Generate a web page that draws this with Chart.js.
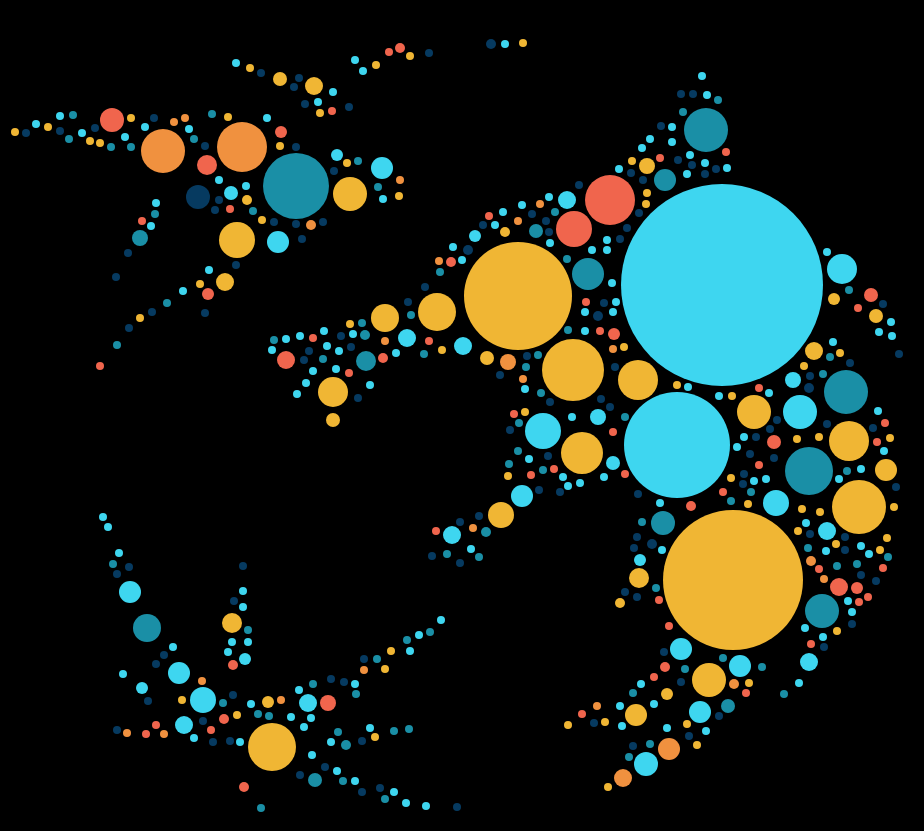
<!DOCTYPE html>
<html>
<head>
<meta charset="utf-8">
<title>Bubbles</title>
<script src="https://cdn.jsdelivr.net/npm/chart.js@4.4.1/dist/chart.umd.min.js"></script>
<style>
  html, body { margin: 0; padding: 0; background: #000; overflow: hidden; }
  #wrap { width: 924px; height: 831px; }
</style>
</head>
<body>
<div id="wrap"><canvas id="bubbleChart" width="924" height="831"></canvas></div>
<script>
// each entry: [x, y, r]
const cyanBubbles = [
  [236,63,4],[60,116,4],[36,124,4],[82,133,4],[125,137,4],[145,127,4],[189,129,4],[267,118,4],[219,180,4],[231,193,7],[246,186,4],[278,242,11],[156,203,4],[151,226,4],[209,270,4],[183,291,4],
  [355,60,4],[363,71,4],[505,44,4],[333,92,4],[318,102,4],[337,155,6],[382,168,11],[383,199,4],
  [567,200,9],[549,197,4],[522,205,4],[503,212,4],[495,225,4],[475,236,6],[550,243,4],[607,240,4],[592,250,4],[607,250,4],[453,247,4],[462,260,4],
  [702,76,4],[707,95,4],[672,127,4],[650,139,4],[672,142,4],[642,148,4],[690,155,4],[705,163,4],[687,174,4],[727,168,4],[619,169,4],
  [722,285,101],[612,283,4],[616,302,4],[613,312,4],[827,252,4],[842,269,15],[891,322,4],[879,332,4],[892,336,4],
  [324,331,4],[300,336,4],[286,339,4],[272,350,4],[353,334,4],[407,338,9],[327,346,4],[339,351,4],[396,353,4],[463,346,9],[313,371,4],[336,369,4],[306,383,4],[297,394,4],[370,385,4],
  [525,389,4],[543,431,18],[598,417,8],[529,459,4],[563,477,4],[568,486,4],[522,496,11],[452,535,9],[471,549,4],
  [441,620,4],[419,635,4],[410,651,4],[406,803,4],[426,806,4],
  [660,503,4],[662,550,4],[640,560,6],[681,649,11],[641,684,4],[654,704,4],[620,706,4],[622,726,4],[667,728,4],[646,764,12],
  [754,481,4],[776,503,13],[806,523,4],[827,531,9],[826,551,4],[861,546,4],[869,554,4],[848,601,4],[852,612,4],[805,628,4],[823,637,4],[809,662,9],[799,683,4],
  [740,666,11],[700,712,11],[706,731,4],
  [585,312,4],[585,331,4],[572,417,4],[613,463,7],[580,483,4],[604,477,4],[677,445,53],
  [688,387,4],[719,396,4],[769,393,4],[800,412,17],[793,380,8],[833,342,4],[744,437,4],[737,447,4],[878,411,4],[884,451,4],[861,469,4],[839,479,4],[766,479,4],
  [103,517,4],[108,527,4],[119,553,4],[130,592,11],[243,591,4],[243,607,4],[232,642,4],[248,642,4],[228,652,4],[245,659,6],[173,647,4],[179,673,11],[123,674,4],[142,688,6],[203,700,13],[251,704,4],[299,690,4],[308,703,9],[355,684,4],[184,725,9],[194,738,4],[240,742,4],[291,717,4],[311,718,4],[304,727,4],[312,755,4],[337,771,4],[355,781,4],[331,742,4],[370,728,4],[394,792,4]
];

const yellowBubbles = [
  [250,68,4],[280,79,7],[314,86,9],[131,118,4],[228,117,4],[48,127,4],[15,132,4],[90,141,4],[100,143,4],[280,146,4],[247,200,5],[262,220,4],[237,240,18],[225,282,9],[200,284,4],[140,318,4],
  [376,65,4],[410,56,4],[523,43,4],[320,113,4],[347,163,4],[350,194,17],[399,196,4],[505,232,5],[518,296,54],[437,312,19],[385,318,14],
  [632,161,4],[647,166,8],[647,193,4],[646,204,4],[834,299,6],[876,316,7],
  [350,324,4],[333,392,15],[333,420,7],[442,350,4],[487,358,7],[573,370,31],[525,412,4],[508,476,4],[501,515,13],
  [639,578,10],[620,603,5],[667,694,6],[636,715,11],[568,725,4],[605,722,4],[608,787,4],
  [859,507,27],[894,507,4],[748,504,4],[733,580,70],[802,509,4],[820,512,4],[798,531,4],[836,544,4],[887,538,4],[880,550,4],[837,631,4],[709,680,17],[749,683,4],[687,724,4],[697,745,4],
  [624,347,4],[582,453,21],[638,380,20],[677,385,4],[732,396,4],[754,412,17],[814,351,9],[840,353,4],[804,366,4],[797,439,4],[819,437,4],[849,441,20],[890,438,4],[886,470,11],[731,478,4],
  [232,623,10],[182,700,4],[268,702,6],[391,651,4],[385,669,4],[237,715,4],[272,747,24],[375,737,4]
];

const coralBubbles = [
  [112,120,12],[281,132,6],[207,165,10],[230,209,4],[142,221,4],[208,294,6],[100,366,4],
  [389,52,4],[400,48,5],[332,111,4],[610,200,25],[489,216,4],[574,229,18],[451,262,5],[586,302,4],
  [726,152,4],[660,158,4],[614,334,6],[871,295,7],[858,308,4],
  [313,338,4],[429,341,4],[286,360,9],[383,358,5],[349,373,4],[514,414,4],[531,475,4],[554,469,4],[436,531,4],
  [659,600,4],[669,626,4],[665,667,5],[654,677,4],[582,714,4],
  [723,492,4],[691,506,5],[819,569,4],[883,568,4],[839,587,9],[857,588,6],[868,597,4],[859,602,4],[811,644,4],[746,693,4],
  [600,331,4],[613,432,4],[625,474,4],[759,388,4],[774,442,7],[759,465,4],[885,423,4],[877,442,4],
  [233,665,5],[328,703,8],[146,734,4],[156,725,4],[211,730,4],[224,719,5],[244,787,5]
];

const orangeBubbles = [
  [174,122,4],[185,118,4],[163,151,22],[242,147,25],[311,225,5],
  [400,180,4],[540,204,4],[518,221,4],[439,261,4],
  [385,341,4],[508,362,8],[523,379,4],[473,528,4],
  [597,706,4],[669,749,11],[623,778,9],
  [811,561,5],[824,579,4],[734,684,5],[613,349,4],
  [202,681,4],[281,700,4],[364,670,4],[127,733,4],[164,734,4]
];

const tealBubbles = [
  [212,114,4],[73,115,4],[69,139,4],[111,147,4],[131,147,4],[194,139,4],[296,186,33],[253,211,4],[155,214,4],[140,238,8],[167,303,4],[117,345,4],
  [358,161,4],[378,187,4],[555,212,4],[536,231,7],[567,259,4],[588,274,16],[440,272,4],
  [718,100,4],[683,112,4],[706,130,22],[665,180,11],[849,290,4],
  [274,340,4],[362,323,4],[365,335,5],[323,359,4],[366,361,10],[424,354,4],[411,315,4],[568,330,4],[538,355,4],[526,367,4],[541,393,4],[519,423,4],[518,451,4],[509,464,4],[543,470,4],[486,532,5],[447,554,4],[479,557,4],
  [430,632,4],[407,640,4],[409,729,4],
  [663,523,12],[642,522,4],[656,588,4],[633,693,4],[650,744,4],[629,757,4],
  [751,492,4],[808,548,4],[888,557,4],[837,566,4],[857,564,4],[822,611,17],[784,694,4],[685,669,4],[723,658,4],[762,667,4],[728,706,7],
  [625,417,4],[823,374,4],[846,392,22],[830,357,4],[809,471,24],[847,471,4],[731,501,4],
  [113,564,4],[147,628,14],[248,630,4],[223,703,4],[313,684,4],[356,694,4],[377,659,4],[258,714,4],[269,716,4],[315,780,7],[343,781,4],[261,808,4],[338,732,4],[346,745,5],[394,731,4],[385,799,4]
];

const navyBubbles = [
  [261,73,4],[299,78,4],[294,87,4],[305,104,4],[154,118,4],[26,133,4],[60,131,4],[95,128,4],[205,146,4],[296,147,4],[198,197,12],[219,200,4],[215,210,4],[274,222,4],[296,224,4],[302,239,4],[128,253,4],[116,277,4],[236,265,4],[152,312,4],[129,328,4],[205,313,4],
  [429,53,4],[491,44,5],[349,107,4],[334,171,4],[323,222,4],[579,185,4],[532,214,4],[483,225,4],[546,221,4],[549,232,4],[468,250,5],[425,287,4],[408,302,4],[604,303,4],
  [681,94,4],[693,94,4],[661,126,4],[678,160,4],[692,165,4],[705,174,4],[716,169,4],[631,173,4],[643,180,4],[639,213,4],[627,228,4],[620,239,4],[883,304,4],[899,354,4],
  [341,336,4],[309,351,4],[351,347,4],[304,360,4],[358,398,4],[527,356,4],[500,375,4],[550,402,4],[510,430,4],[548,456,4],[560,492,4],[539,490,4],[479,516,4],[460,522,4],[432,556,4],[460,563,4],
  [457,807,4],
  [637,537,4],[652,544,5],[634,548,4],[625,592,4],[637,597,4],[664,652,4],[594,723,4],[633,746,4],
  [896,487,4],[743,484,4],[810,534,4],[845,537,4],[845,550,4],[861,575,4],[876,581,4],[852,624,4],[824,647,4],[638,494,4],[681,682,4],[719,716,4],[689,736,4],
  [598,316,5],[615,367,4],[601,399,4],[610,407,4],[810,376,4],[809,388,5],[850,363,4],[777,420,4],[770,429,4],[756,437,4],[827,424,4],[750,454,4],[774,458,4],[873,428,4],[744,474,4],
  [243,566,4],[234,601,4],[129,567,4],[117,574,4],[164,655,4],[156,664,4],[148,701,4],[233,695,4],[331,679,4],[344,682,4],[364,659,4],[117,730,4],[203,721,4],[213,742,4],[230,741,4],[325,767,4],[300,775,4],[362,792,4],[362,741,4],[380,788,4]
];

function toPoints(list) {
  return list.map(b => ({ x: b[0], y: b[1], r: b[2] }));
}

function series(label, list, color) {
  return {
    label: label,
    data: toPoints(list),
    backgroundColor: color,
    borderWidth: 0,
    hoverRadius: 0
  };
}

const ctx = document.getElementById("bubbleChart").getContext("2d");

new Chart(ctx, {
  type: "bubble",
  data: {
    datasets: [
      series("navy", navyBubbles, "#063a60"),
      series("teal", tealBubbles, "#1a8fa6"),
      series("orange", orangeBubbles, "#f0913f"),
      series("coral", coralBubbles, "#f0654d"),
      series("yellow", yellowBubbles, "#f0b634"),
      series("cyan", cyanBubbles, "#3ed6f0")
    ]
  },
  options: {
    responsive: false,
    animation: false,
    devicePixelRatio: 1,
    layout: { padding: 0, autoPadding: false },
    clip: false,
    events: [],
    plugins: {
      legend: { display: false },
      tooltip: { enabled: false }
    },
    scales: {
      x: { type: "linear", min: 0, max: 924, display: false },
      y: { type: "linear", min: 0, max: 831, reverse: true, display: false }
    }
  }
});
</script>
</body>
</html>
